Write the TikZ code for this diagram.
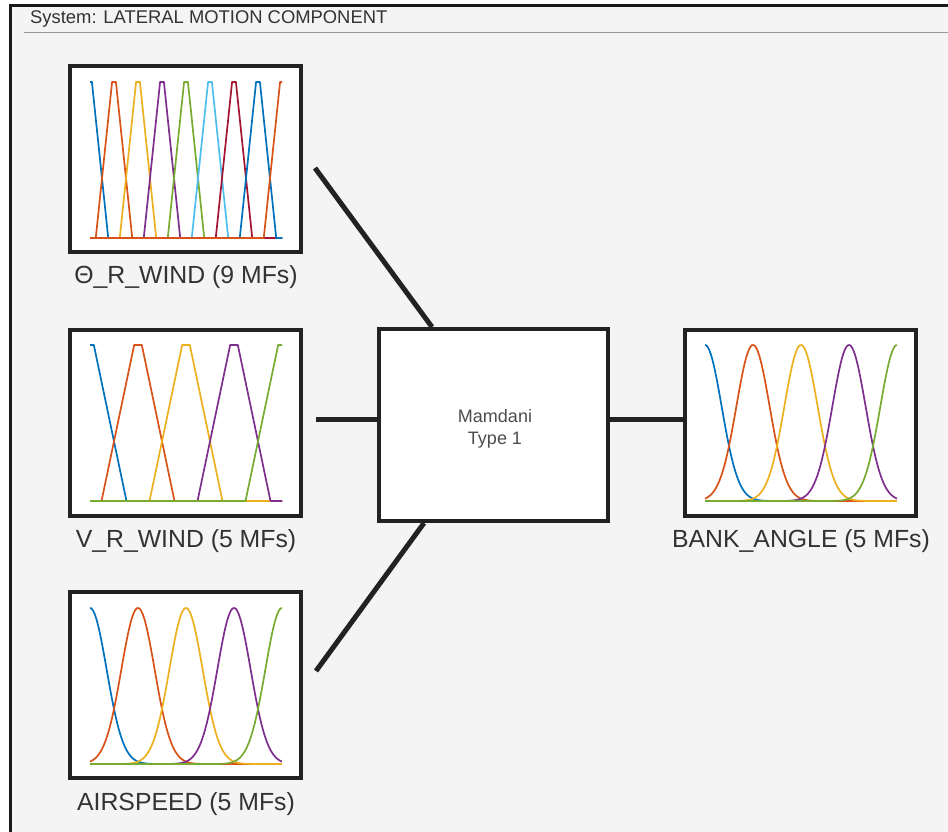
\documentclass[tikz,border=0pt]{standalone}
\usepackage{fontspec}
\setmainfont{Liberation Sans}
\definecolor{bgc}{HTML}{F4F4F4}
\definecolor{framec}{HTML}{1A1A1A}
\definecolor{boxc}{HTML}{222222}
\definecolor{txtc}{HTML}{333333}
\definecolor{mamc}{HTML}{4D4D4D}
\definecolor{m1}{rgb}{0,0.447,0.741}
\definecolor{m2}{rgb}{0.850,0.325,0.098}
\definecolor{m3}{rgb}{0.929,0.694,0.125}
\definecolor{m4}{rgb}{0.494,0.184,0.556}
\definecolor{m5}{rgb}{0.466,0.674,0.188}
\definecolor{m6}{rgb}{0.301,0.745,0.933}
\definecolor{m7}{rgb}{0.635,0.078,0.184}
\begin{document}
\begin{tikzpicture}[x=1pt,y=-1pt,
  mfbox/.style={draw=boxc, line width=4pt, fill=white, minimum width=231pt, minimum height=186pt, inner sep=0pt, outer sep=0pt},
  mambox/.style={draw=boxc, line width=4pt, fill=white, minimum width=229pt, minimum height=192pt, inner sep=0pt, outer sep=0pt},
  lbl/.style={text=txtc, font=\fontsize{24.8}{28}\selectfont, inner sep=0pt, anchor=base},
  mamtxt/.style={text=mamc, font=\fontsize{18}{22.3}\selectfont, align=center, inner sep=0pt},
  conn/.style={draw=boxc, line width=5pt},
  mfline/.style={line width=1.7pt, line join=round}
]
\useasboundingbox (0,0) rectangle (948,832);
\fill[white] (0,0) rectangle (948,832);
\fill[bgc] (10.5,5.5) rectangle (950,834);
\draw[framec, line width=3pt] (10.5,836) -- (10.5,5.5) -- (952,5.5);
\node[anchor=base west, text=txtc, font=\fontsize{18.4}{22}\selectfont, inner sep=0pt] (title) at (30,24) {System: LATERAL MOTION COMPONENT};
\draw[black!40, line width=1.5pt] (24,32.3) -- (950,32.3);

% boxes
\node[mfbox] (in1) at (185.5,159) {};
\node[mfbox] (in2) at (185.5,422.5) {};
\node[mfbox] (in3) at (185.5,685) {};
\node[mfbox] (out) at (800.5,422.5) {};
\node[mambox] (mam) at (493.5,425) {};
\node[mamtxt] (mamtext) at (495,428.5) {Mamdani\\Type 1};

% labels
\node[lbl] (l1) at (186,283) {Θ\_R\_WIND (9 MFs)};
\node[lbl] (l2) at (186,547) {V\_R\_WIND (5 MFs)};
\node[lbl] (l3) at (186,810) {AIRSPEED (5 MFs)};
\node[lbl] (l4) at (801,547) {BANK\_ANGLE (5 MFs)};

% connectors
\coordinate (c1s) at (315,168);
\coordinate (c1e) at (432,327);
\coordinate (c2s) at (316,419.5);
\coordinate (c2e) at (379,419.5);
\coordinate (c3s) at (316,671);
\coordinate (c3e) at (424,523);
\coordinate (c4s) at (608,419.5);
\coordinate (c4e) at (685,419.5);
\draw[conn] (c1s) -- (c1e);
\draw[conn] (c2s) -- (c2e);
\draw[conn] (c3s) -- (c3e);
\draw[conn] (c4s) -- (c4e);

% MF plots: input 1 (9 trapezoids)
\begin{scope}[shift={(90,238)}, xscale=24, yscale=-156]
  \clip (0,-0.03) rectangle (8,1.03);
  \foreach \c/\col in {0/m1,1/m2,2/m3,3/m4,4/m5,5/m6,6/m7,7/m1,8/m2}
    \draw[mfline,\col] (-1,0) -- ({\c-0.76},0) -- ({\c-0.08},1) -- ({\c+0.08},1) -- ({\c+0.76},0) -- (9,0);
\end{scope}
% input 2 (5 trapezoids)
\begin{scope}[shift={(90,501)}, xscale=48, yscale=-156]
  \clip (0,-0.03) rectangle (4,1.03);
  \foreach \c/\col in {0/m1,1/m2,2/m3,3/m4,4/m5}
    \draw[mfline,\col] (-1,0) -- ({\c-0.76},0) -- ({\c-0.08},1) -- ({\c+0.08},1) -- ({\c+0.76},0) -- (5,0);
\end{scope}
% input 3 (5 gaussians)
\begin{scope}[shift={(90,764)}, xscale=48, yscale=-156]
  \foreach \c/\col in {0/m1,1/m2,2/m3,3/m4,4/m5}
    \draw[mfline,\col] plot[domain=0:4, samples=161, smooth] (\x,{exp(max(-9,-(\x-\c)*(\x-\c)/0.24))});
\end{scope}
% output (5 gaussians)
\begin{scope}[shift={(705,501)}, xscale=48, yscale=-156]
  \foreach \c/\col in {0/m1,1/m2,2/m3,3/m4,4/m5}
    \draw[mfline,\col] plot[domain=0:4, samples=161, smooth] (\x,{exp(max(-9,-(\x-\c)*(\x-\c)/0.24))});
\end{scope}
\end{tikzpicture}
\end{document}
